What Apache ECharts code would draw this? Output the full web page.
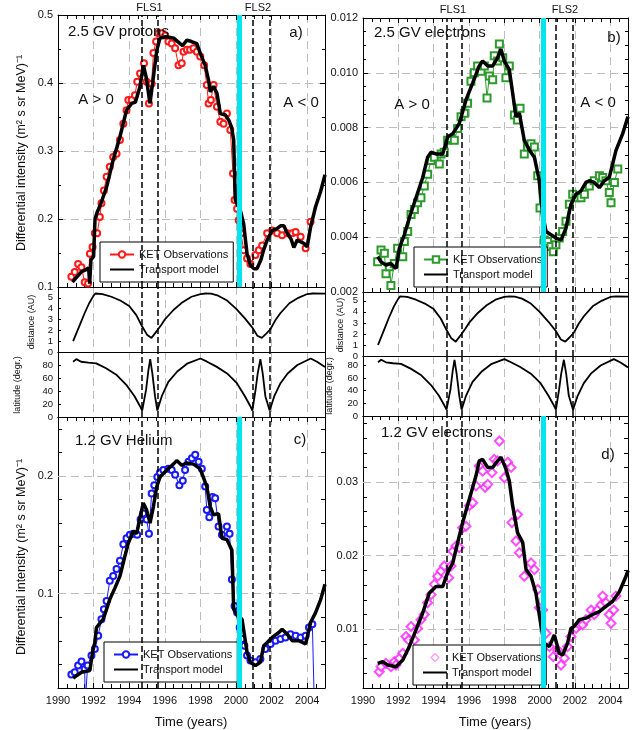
<!DOCTYPE html>
<html><head><meta charset="utf-8">
<script src="https://cdn.jsdelivr.net/npm/echarts@6/dist/echarts.min.js"></script>
<style>html,body{margin:0;padding:0;background:#fff}#c{width:636px;height:730px}</style>
</head><body><div id="c"></div>
<script>
// ---------------- DATA ----------------
const flsYears = [1994.73, 1995.58, 2000.92, 2001.89];
const reversalYear = 2000.2;
const xTicks = {min: 1990, max: 2005, step: 2};
const heliumLabels = [0.1, 0.2];
const elec12Labels = [0.01, 0.02, 0.03];

// a) 2.5 GV protons
const protonObs = [[1990.75,0.115],[1990.94,0.122],[1991.13,0.134],[1991.32,0.129],[1991.50,0.107],[1991.69,0.105],[1991.79,0.149],[1991.94,0.159],[1992.07,0.179],[1992.20,0.179],[1992.35,0.203],[1992.44,0.223],[1992.58,0.242],[1992.73,0.262],[1992.91,0.277],[1993.10,0.291],[1993.29,0.296],[1993.48,0.316],[1993.67,0.340],[1993.85,0.360],[1993.95,0.375],[1994.14,0.375],[1994.32,0.382],[1994.45,0.402],[1994.61,0.414],[1994.83,0.429],[1994.98,0.402],[1995.11,0.370],[1995.26,0.399],[1995.36,0.444],[1995.51,0.461],[1995.64,0.473],[1995.83,0.473],[1996.02,0.470],[1996.20,0.461],[1996.39,0.458],[1996.58,0.451],[1996.77,0.426],[1996.95,0.429],[1997.05,0.446],[1997.24,0.449],[1997.42,0.449],[1997.61,0.451],[1997.80,0.446],[1997.99,0.439],[1998.21,0.426],[1998.36,0.397],[1998.46,0.370],[1998.59,0.375],[1998.74,0.397],[1998.93,0.365],[1999.12,0.343],[1999.30,0.340],[1999.49,0.355],[1999.68,0.331],[1999.83,0.267],[1999.92,0.228],[2000.06,0.215],[2000.15,0.198],[2000.28,0.179],[2000.43,0.154],[2000.62,0.142],[2000.81,0.134],[2001.09,0.147],[2001.28,0.154],[2001.47,0.161],[2001.75,0.179],[2002.03,0.183],[2002.31,0.179],[2002.59,0.176],[2002.88,0.179],[2003.16,0.179],[2003.35,0.181],[2003.63,0.174],[2003.91,0.157],[2004.19,0.196]];
const protonModel = [[1990.81,0.107],[1991.0,0.113],[1991.3,0.122],[1991.6,0.126],[1991.72,0.128],[1991.78,0.105],[1991.85,0.140],[1992.0,0.145],[1992.08,0.200],[1992.2,0.210],[1992.4,0.222],[1992.73,0.247],[1993.1,0.287],[1993.48,0.321],[1993.85,0.360],[1994.14,0.370],[1994.35,0.372],[1994.6,0.394],[1994.8,0.426],[1994.95,0.409],[1995.17,0.370],[1995.36,0.409],[1995.55,0.448],[1995.73,0.466],[1996.1,0.468],[1996.5,0.466],[1996.86,0.458],[1997.0,0.455],[1997.24,0.463],[1997.5,0.461],[1997.8,0.458],[1997.99,0.444],[1998.27,0.426],[1998.46,0.404],[1998.55,0.387],[1998.74,0.395],[1998.93,0.385],[1999.12,0.355],[1999.4,0.353],[1999.6,0.345],[1999.75,0.335],[1999.87,0.316],[1999.96,0.228],[2000.24,0.213],[2000.43,0.193],[2000.62,0.149],[2000.81,0.132],[2001.0,0.127],[2001.18,0.127],[2001.4,0.140],[2001.56,0.155],[2001.75,0.169],[2002.03,0.183],[2002.3,0.186],[2002.5,0.190],[2002.69,0.190],[2002.88,0.179],[2003.1,0.170],[2003.25,0.158],[2003.44,0.169],[2003.82,0.164],[2004.0,0.159],[2004.19,0.188],[2004.47,0.218],[2004.75,0.240],[2005.0,0.265]];

// b) 2.5 GV electrons
const elec25Obs = [[1990.83,0.0031],[1991.02,0.00353],[1991.21,0.00341],[1991.30,0.00267],[1991.49,0.00292],[1991.58,0.00224],[1991.77,0.00304],[1991.96,0.0036],[1992.25,0.00329],[1992.34,0.00384],[1992.53,0.00421],[1992.72,0.00483],[1992.91,0.00501],[1993.09,0.00526],[1993.28,0.00544],[1993.47,0.00587],[1993.66,0.0063],[1993.85,0.0068],[1994.04,0.00692],[1994.32,0.00667],[1994.42,0.00704],[1994.60,0.0071],[1994.79,0.00754],[1994.98,0.0076],[1995.17,0.00754],[1995.36,0.00797],[1995.55,0.0084],[1995.74,0.00852],[1995.92,0.00889],[1996.11,0.00969],[1996.30,0.0100],[1996.49,0.01025],[1996.68,0.01006],[1996.87,0.01025],[1997.02,0.00908],[1997.15,0.00988],[1997.34,0.00975],[1997.43,0.01062],[1997.62,0.01043],[1997.72,0.01105],[1997.91,0.01055],[1998.09,0.00982],[1998.28,0.01025],[1998.57,0.00846],[1998.75,0.00828],[1998.89,0.00871],[1999.13,0.00704],[1999.32,0.00729],[1999.51,0.00741],[1999.70,0.00729],[1999.89,0.00624],[2000.02,0.00507],[2000.26,0.0039],[2000.45,0.00384],[2000.64,0.00366],[2000.77,0.00347],[2000.92,0.00372],[2001.11,0.00397],[2001.30,0.00421],[2001.49,0.00458],[2001.68,0.0052],[2001.87,0.00557],[2002.06,0.00544],[2002.34,0.00544],[2002.53,0.00557],[2002.81,0.00587],[2003.09,0.00606],[2003.38,0.00624],[2003.57,0.00618],[2003.75,0.00606],[2003.94,0.00563],[2004.04,0.00526],[2004.23,0.0060],[2004.42,0.00649]];
const elec25Model = [[1990.83,0.00329],[1991.02,0.0031],[1991.30,0.00298],[1991.58,0.00304],[1991.87,0.00286],[1992.06,0.0036],[1992.34,0.00409],[1992.62,0.0047],[1993.0,0.00544],[1993.38,0.00618],[1993.66,0.00692],[1993.85,0.0071],[1994.13,0.00704],[1994.51,0.00704],[1994.79,0.00766],[1995.08,0.00778],[1995.45,0.00815],[1995.83,0.00901],[1996.21,0.00963],[1996.58,0.01025],[1996.77,0.01043],[1997.06,0.01025],[1997.34,0.01025],[1997.62,0.01055],[1997.81,0.01086],[1998.0,0.01043],[1998.28,0.01012],[1998.47,0.00926],[1998.66,0.0084],[1998.85,0.00852],[1999.13,0.00754],[1999.42,0.00717],[1999.70,0.00692],[1999.98,0.00606],[2000.17,0.00483],[2000.36,0.00421],[2000.64,0.00409],[2000.92,0.00397],[2001.21,0.0039],[2001.49,0.00433],[2001.77,0.0052],[2002.06,0.00557],[2002.34,0.00569],[2002.62,0.0060],[2002.81,0.00606],[2003.09,0.0060],[2003.38,0.00581],[2003.66,0.00606],[2003.94,0.00618],[2004.32,0.00717],[2004.70,0.00778],[2005.0,0.0084]];

// c) 1.2 GV Helium
const heliumObs = [[1990.75,0.0315],[1990.94,0.0334],[1991.13,0.039],[1991.32,0.0424],[1991.50,0.0362],[1991.53,0.005],[1991.62,0.005],[1991.66,0.039],[1991.88,0.0475],[1992.07,0.0531],[1992.26,0.0643],[1992.44,0.0784],[1992.58,0.0868],[1992.73,0.0938],[1992.91,0.111],[1993.10,0.115],[1993.29,0.121],[1993.48,0.128],[1993.67,0.142],[1993.85,0.147],[1994.04,0.150],[1994.23,0.151],[1994.45,0.150],[1994.64,0.163],[1994.79,0.168],[1994.98,0.163],[1995.11,0.151],[1995.26,0.185],[1995.41,0.192],[1995.58,0.199],[1995.73,0.203],[1995.92,0.205],[1996.20,0.206],[1996.39,0.205],[1996.58,0.201],[1996.82,0.192],[1997.01,0.196],[1997.14,0.205],[1997.33,0.212],[1997.52,0.215],[1997.71,0.218],[1997.90,0.212],[1998.08,0.206],[1998.27,0.191],[1998.36,0.171],[1998.50,0.165],[1998.68,0.182],[1998.83,0.181],[1999.02,0.157],[1999.21,0.150],[1999.49,0.157],[1999.64,0.151],[1999.77,0.112],[1999.92,0.0896],[2000.06,0.084],[2000.21,0.0713],[2000.34,0.0615],[2000.47,0.0559],[2000.62,0.0475],[2000.81,0.0433],[2001.09,0.0419],[2001.37,0.0447],[2001.65,0.0531],[2001.94,0.0573],[2002.22,0.0601],[2002.50,0.0615],[2002.78,0.0629],[2003.06,0.0657],[2003.35,0.0643],[2003.63,0.0629],[2003.91,0.0643],[2004.10,0.0713],[2004.29,0.0742],[2004.40,0.005]];
const heliumModel = [[1990.85,0.0284],[1991.32,0.0334],[1991.79,0.0348],[1991.94,0.0503],[1992.07,0.0587],[1992.16,0.0713],[1992.54,0.0784],[1992.91,0.0952],[1993.20,0.105],[1993.48,0.115],[1993.76,0.132],[1993.95,0.143],[1994.23,0.153],[1994.42,0.151],[1994.61,0.165],[1994.79,0.177],[1994.98,0.171],[1995.17,0.160],[1995.36,0.174],[1995.55,0.191],[1995.73,0.199],[1996.11,0.205],[1996.48,0.210],[1996.67,0.213],[1996.95,0.209],[1997.24,0.211],[1997.61,0.210],[1997.99,0.206],[1998.36,0.191],[1998.55,0.174],[1998.74,0.167],[1999.02,0.168],[1999.21,0.147],[1999.49,0.146],[1999.77,0.137],[1999.87,0.0868],[2000.15,0.0798],[2000.34,0.0784],[2000.62,0.0503],[2000.81,0.0419],[2001.09,0.039],[2001.37,0.0419],[2001.56,0.0559],[2001.75,0.0587],[2002.03,0.0629],[2002.41,0.0671],[2002.59,0.0699],[2002.88,0.0657],[2003.16,0.0601],[2003.53,0.0601],[2003.91,0.0573],[2004.19,0.0756],[2004.47,0.084],[2004.76,0.0952],[2005.0,0.108]];

// d) 1.2 GV electrons
const elec12Obs = [[1990.92,0.00421],[1991.02,0.0049],[1991.30,0.00535],[1991.58,0.0049],[1991.77,0.00558],[1991.87,0.00513],[1992.06,0.00604],[1992.25,0.00672],[1992.43,0.0090],[1992.58,0.00854],[1992.72,0.01036],[1992.91,0.00854],[1993.09,0.0101],[1993.28,0.0113],[1993.47,0.0120],[1993.66,0.0136],[1993.85,0.0147],[1994.04,0.0161],[1994.23,0.0172],[1994.42,0.0179],[1994.60,0.0186],[1994.85,0.0170],[1994.98,0.0186],[1995.08,0.0206],[1995.26,0.0213],[1995.45,0.0211],[1995.64,0.0238],[1995.83,0.0240],[1996.02,0.0268],[1996.21,0.0272],[1996.40,0.0295],[1996.58,0.0322],[1996.77,0.0315],[1996.91,0.0293],[1997.06,0.0297],[1997.30,0.0313],[1997.43,0.0331],[1997.62,0.0329],[1997.72,0.0356],[1998.00,0.0306],[1998.19,0.0327],[1998.38,0.0320],[1998.43,0.0245],[1998.66,0.0220],[1998.75,0.0256],[1998.85,0.0204],[1999.13,0.0172],[1999.51,0.0190],[1999.70,0.0181],[1999.89,0.0154],[1999.98,0.0129],[2000.17,0.0126],[2000.36,0.00945],[2000.55,0.00763],[2000.77,0.00626],[2001.02,0.00718],[2001.21,0.00513],[2001.40,0.00604],[2001.58,0.00763],[2001.77,0.0090],[2002.06,0.0101],[2002.25,0.0106],[2002.43,0.0106],[2002.62,0.0113],[2002.91,0.0126],[2003.09,0.0120],[2003.28,0.0126],[2003.47,0.0133],[2003.57,0.0145],[2003.75,0.0136],[2003.94,0.0120],[2004.04,0.0108],[2004.19,0.0126],[2004.32,0.0145]];
const elec12Model = [[1990.83,0.00535],[1991.11,0.00558],[1991.40,0.00513],[1991.87,0.0049],[1992.25,0.00581],[1992.62,0.00763],[1993.0,0.00991],[1993.38,0.0122],[1993.75,0.0149],[1994.13,0.0158],[1994.51,0.0158],[1994.79,0.0177],[1995.08,0.0190],[1995.36,0.0218],[1995.64,0.0245],[1996.02,0.0277],[1996.40,0.0309],[1996.58,0.0329],[1996.77,0.0331],[1997.06,0.0320],[1997.34,0.0320],[1997.62,0.0329],[1997.81,0.0334],[1998.09,0.0318],[1998.28,0.0302],[1998.47,0.0268],[1998.75,0.0231],[1999.04,0.0218],[1999.23,0.0181],[1999.51,0.0172],[1999.79,0.0149],[2000.08,0.0104],[2000.26,0.0081],[2000.55,0.00763],[2000.83,0.00923],[2000.92,0.00923],[2001.11,0.00672],[2001.30,0.00649],[2001.58,0.0081],[2001.77,0.0101],[2001.96,0.0104],[2002.25,0.0113],[2002.62,0.0115],[2003.0,0.0120],[2003.38,0.0124],[2003.75,0.0131],[2004.13,0.0138],[2004.51,0.0151],[2004.89,0.0172],[2005.0,0.0180]];

// Ulysses orbit
const distance = [[1990.85,1.0],[1991.0,1.6],[1991.25,2.6],[1991.5,3.6],[1991.75,4.5],[1992.0,5.2],[1992.1,5.4],[1992.5,5.35],[1993.0,5.1],[1993.5,4.75],[1994.0,4.25],[1994.4,3.4],[1994.73,2.35],[1995.0,1.6],[1995.25,1.3],[1995.58,2.0],[1995.8,2.5],[1996.0,3.0],[1996.5,3.9],[1997.0,4.6],[1997.5,5.1],[1998.0,5.35],[1998.3,5.4],[1998.6,5.38],[1999.0,5.2],[1999.5,4.75],[2000.0,4.0],[2000.5,3.1],[2000.92,2.25],[2001.2,1.5],[2001.45,1.3],[2001.7,1.7],[2001.93,2.1],[2002.2,2.9],[2002.5,3.6],[2003.0,4.5],[2003.5,5.0],[2004.0,5.35],[2004.3,5.4],[2005.0,5.38]];
const latitude = [[1990.85,85],[1991.03,89],[1991.3,85],[1991.7,83.5],[1992.15,82.5],[1992.7,75],[1993.3,64.5],[1993.85,49],[1994.3,32],[1994.6,17],[1994.73,10],[1994.95,42],[1995.08,72],[1995.18,89],[1995.3,67],[1995.45,32],[1995.58,10],[1995.83,32],[1996.2,54],[1996.7,70],[1997.25,82],[1998.0,90],[1998.35,85.5],[1998.9,77.5],[1999.5,67],[2000.05,52],[2000.5,32],[2000.8,17],[2000.92,10],[2001.1,42],[2001.22,67],[2001.37,89],[2001.5,67],[2001.65,32],[2001.89,10],[2002.15,32],[2002.5,52],[2002.9,67],[2003.45,80],[2004.2,90],[2004.55,85],[2005.0,77]];

// ---------------- LAYOUT ----------------
const FONT = 'Liberation Sans';
const near = (v, list) => list.some(t => Math.abs(v - t) < 1e-7);
const panels = [
  {grid:{left:58,top:15,width:267,height:272}, main:true, xl:false,
   y:{min:0.1,max:0.5,interval:0.1,minor:2,split:true,fmt:v=>v.toFixed(1)}},
  {grid:{left:58,top:287,width:267,height:65}, main:false, xl:false,
   y:{min:0,max:6,interval:1,minor:0,split:false,small:true,fmt:v=>String(Math.round(v))}},
  {grid:{left:58,top:352,width:267,height:65}, main:false, xl:false,
   y:{min:0,max:100,interval:20,minor:0,split:false,small:true,fmt:v=>String(Math.round(v))}},
  {grid:{left:58,top:417,width:267,height:271}, main:true, xl:true,
   y:{min:0.02,max:0.25,interval:0.02,minor:0,split:false,fmt:v=>near(v,heliumLabels)?v.toFixed(1):''}},
  {grid:{left:363,top:18,width:265,height:274}, main:true, xl:false,
   y:{min:0.002,max:0.012,interval:0.002,minor:4,split:true,fmt:v=>v.toFixed(3)}},
  {grid:{left:363,top:292,width:265,height:64}, main:false, xl:false,
   y:{min:0,max:5.8,interval:1,minor:0,split:false,small:true,fmt:v=>String(Math.round(v))}},
  {grid:{left:363,top:356,width:265,height:60}, main:false, xl:false,
   y:{min:0,max:95,interval:20,minor:0,split:false,small:true,fmt:v=>String(Math.round(v))}},
  {grid:{left:363,top:416,width:265,height:272}, main:true, xl:true,
   y:{min:0.002,max:0.039,interval:0.002,minor:0,split:false,fmt:v=>near(v,elec12Labels)?v.toFixed(2):''}}
];

const black = {color:'#000', width:1};
const gridDash = {color:'#bdbdbd', type:[8,5], width:1};
const xAxis = [], yAxis = [];
panels.forEach((p, i) => {
  const base = {gridIndex:i, type:'value', min:xTicks.min, max:xTicks.max, interval:xTicks.step,
    axisLine:{show:true, onZero:false, lineStyle:black},
    axisTick:{show:p.main, inside:true, length:5, lineStyle:black},
    minorTick:{show:p.main, splitNumber:4, length:4, lineStyle:black}};
  xAxis.push(Object.assign({}, base, {position:'bottom',
    axisLabel:{show:p.xl, showMaxLabel:false, margin:7, fontSize:11, color:'#111', fontFamily:FONT,
      formatter: v => String(Math.round(v))},
    splitLine:{show:true, lineStyle:gridDash}}));
  xAxis.push(Object.assign({}, base, {position:'top', axisLabel:{show:false}, splitLine:{show:false}}));
  const yb = {gridIndex:i, type:'value', min:p.y.min, max:p.y.max, interval:p.y.interval,
    axisLine:{show:true, onZero:false, lineStyle:black},
    axisTick:{show:true, inside:true, length:p.y.small ? 3 : (p.y.minor ? 5 : 4), lineStyle:black},
    minorTick:{show:p.y.minor > 0, splitNumber:p.y.minor || 5, length:3, lineStyle:black}};
  yAxis.push(Object.assign({}, yb, {position:'left',
    axisLabel:{show:true, showMaxLabel:p.y.small ? false : true, margin:5,
      fontSize:p.y.small ? 9.5 : 11, color:'#111', fontFamily:FONT, formatter:p.y.fmt},
    splitLine:{show:p.y.split, lineStyle:gridDash}}));
  yAxis.push(Object.assign({}, yb, {position:'right', axisLabel:{show:false}, splitLine:{show:false},
    axisTick:Object.assign({}, yb.axisTick, {show:p.main})}));
});

const flsLines = flsYears.map(x => ({xAxis:x, lineStyle:{color:'#000', type:[6,3], width:1.5}}));
const cyanLine = {xAxis:reversalYear, lineStyle:{color:'#00e5f0', type:'solid', width:5}};
function marks(main) {
  return {symbol:['none','none'], silent:true, animation:false, label:{show:false},
    data: main ? flsLines.concat([cyanLine]) : flsLines};
}
function gridMarks(vals) {
  return {symbol:['none','none'], silent:true, animation:false, z:1, label:{show:false},
    data: vals.map(v => ({yAxis:v, lineStyle:gridDash}))};
}
function obsLine(name, i, data, color, symbol, size, gm) {
  const s = {name, type:'line', xAxisIndex:2*i, yAxisIndex:2*i, data, symbol, symbolSize:size,
    showSymbol:true, clip:true,
    lineStyle:{color, width:1}, itemStyle:{color, borderColor:color, borderWidth:1}, z:2};
  if (gm) s.markLine = gridMarks(gm);
  return s;
}
function model(name, i, data) {
  return {name, type:'line', xAxisIndex:2*i, yAxisIndex:2*i, data, symbol:'none', clip:true,
    lineStyle:{color:'#000', width:3.5}, itemStyle:{color:'#000'}, z:3, markLine:marks(true)};
}
function orbit(i, data) {
  return {type:'line', xAxisIndex:2*i, yAxisIndex:2*i, data, symbol:'none', clip:true,
    lineStyle:{color:'#000', width:1.8}, z:3, markLine:marks(false)};
}

const series = [
  obsLine('KET Observations|a', 0, protonObs, '#ff1a1a', 'emptyCircle', 6),
  model('Transport model|a', 0, protonModel),
  orbit(1, distance), orbit(2, latitude),
  obsLine('KET Observations|c', 3, heliumObs, '#1a1aff', 'emptyCircle', 6, heliumLabels),
  model('Transport model|c', 3, heliumModel),
  obsLine('KET Observations|b', 4, elec25Obs, '#2e9a2e', 'emptyRect', 7),
  model('Transport model|b', 4, elec25Model),
  orbit(5, distance), orbit(6, latitude),
  {name:'KET Observations|d', type:'scatter', xAxisIndex:14, yAxisIndex:14, data:elec12Obs,
   symbol:'emptyDiamond', symbolSize:9, itemStyle:{color:'#ff22ff', borderColor:'#ff22ff', borderWidth:1}, z:2,
   markLine:gridMarks(elec12Labels)},
  model('Transport model|d', 7, elec12Model)
];

function legend(tag, left, top, scatter) {
  const obs = scatter
    ? {name:'KET Observations|'+tag, icon:'path://M5,0L10,5L5,10L0,5Z',
       itemStyle:{color:'#fff', borderColor:'#ff22ff', borderWidth:1}}
    : {name:'KET Observations|'+tag};
  return {left, top, orient:'vertical',
    data:[obs, {name:'Transport model|'+tag, itemStyle:{opacity:0}}],
    formatter: n => n.split('|')[0], selectedMode:false, symbolKeepAspect:true,
    backgroundColor:'#fff', borderColor:'#000', borderWidth:1, padding:[7,5,7,9],
    itemWidth:24, itemHeight:8, itemGap:4,
    textStyle:{fontSize:11, color:'#111', fontFamily:FONT}};
}

function txt(x, y, text, size, align, rot) {
  return {type:'text', x, y, rotation:rot || 0, z:100,
    style:{text, fontSize:size, fontFamily:FONT, fill:'#111', textAlign:align || 'left', textVerticalAlign:'middle'}};
}
const yTitle = 'Differential intensity (m\u00b2 s sr MeV)\u207b\u00b9';
const graphic = [
  txt(149.5, 8, 'FLS1', 11, 'center'), txt(258, 8, 'FLS2', 11, 'center'),
  txt(453, 10, 'FLS1', 11, 'center'), txt(565, 10, 'FLS2', 11, 'center'),
  txt(68, 32, '2.5 GV protons', 15), txt(296, 33, 'a)', 15, 'center'),
  txt(96, 100, 'A > 0', 15, 'center'), txt(301, 103, 'A < 0', 15, 'center'),
  txt(374, 33, '2.5 GV electrons', 15), txt(614, 38, 'b)', 15, 'center'),
  txt(412, 105, 'A > 0', 15, 'center'), txt(598, 103, 'A < 0', 15, 'center'),
  txt(75, 441, '1.2 GV Helium', 15), txt(300, 440, 'c)', 15, 'center'),
  txt(381, 433, '1.2 GV electrons', 15), txt(608, 455, 'd)', 15, 'center'),
  txt(22, 153, yTitle, 12.5, 'center', Math.PI/2),
  txt(22, 557, yTitle, 12.5, 'center', Math.PI/2),
  txt(32, 322, 'distance (AU)', 9, 'center', Math.PI/2),
  txt(18, 385, 'latitude (degr.)', 9, 'center', Math.PI/2),
  txt(341, 325, 'distance (AU)', 9, 'center', Math.PI/2),
  txt(330, 386, 'latitude (degr.)', 9, 'center', Math.PI/2),
  txt(191, 722, 'Time (years)', 13, 'center'), txt(495, 722, 'Time (years)', 13, 'center')
];

const chart = echarts.init(document.getElementById('c'), null, {renderer:'canvas'});
chart.setOption({
  animation:false, backgroundColor:'#fff',
  textStyle:{fontFamily:FONT},
  grid: panels.map(p => p.grid),
  xAxis, yAxis, series,
  legend:[legend('a',100,242), legend('b',414,247), legend('c',104,642), legend('d',413,645,true)],
  graphic
});
</script></body></html>
